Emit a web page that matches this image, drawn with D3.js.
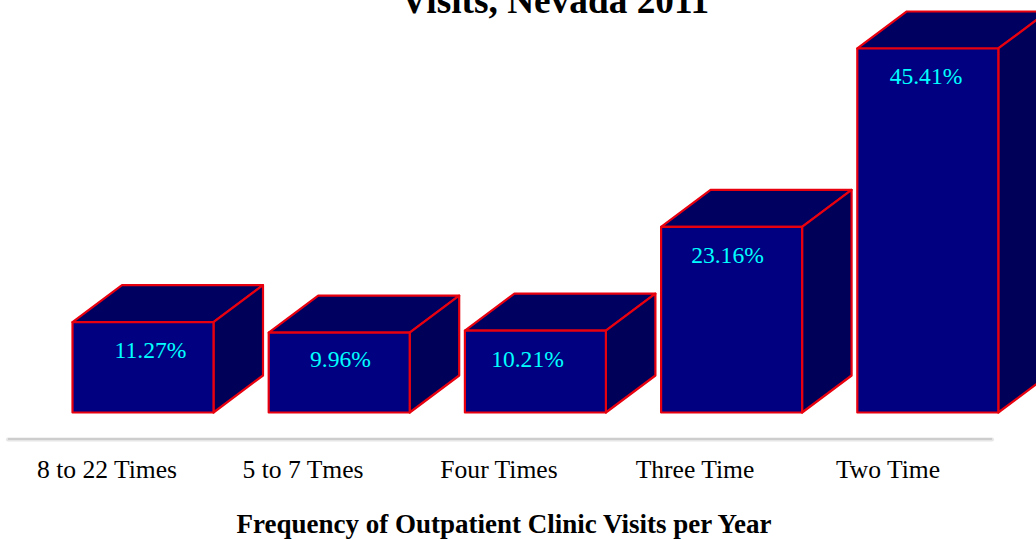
<!DOCTYPE html>
<html>
<head>
<meta charset="utf-8">
<script src="https://cdn.jsdelivr.net/npm/d3@7/dist/d3.min.js"></script>
<style>
html,body{margin:0;padding:0;background:#fff;overflow:hidden}
svg{display:block}
text{font-family:"Liberation Serif","Times New Roman",serif}
</style>
</head>
<body>
<svg id="c" width="1036" height="540"></svg>
<script>
const categories = ["8 to 22 Times","5 to 7 Tmes","Four Times","Three Time","Two Time"];
const values = [11.27,9.96,10.21,23.16,45.41];
const valueLabels = ["11.27%","9.96%","10.21%","23.16%","45.41%"];
const labelCentres = [150.5,340.5,527.5,727.5,926];
const categoryCentres = [107,303,499,695,888];
const titleText = "Visits, Nevada 2011";
const axisTitle = "Frequency of Outpatient Clinic Visits per Year";

const W = 1036, H = 540;
const baseY = 412.5, depthX = 49.5, depthY = -37;
const svg = d3.select("#c");

const x = d3.scaleBand().domain(categories).range([72.5, 72.5 + 196.2*4 + 141]).paddingInner(1 - 141/196.2).paddingOuter(0);
const y = d3.scaleLinear().domain([0,50]).range([baseY, baseY - 50*8.016]);

const bars = svg.append("g").selectAll("g").data(categories.map((c,i)=>({c,v:values[i],i}))).join("g");
const RED = "#e8000f";
function poly(sel, pts, fill){
  sel.append("polygon").attr("points", pts.map(p=>p.join(",")).join(" "))
    .attr("fill", fill).attr("stroke", RED).attr("stroke-width", 2.2).attr("stroke-linejoin","round");
}
bars.each(function(d){
  const g = d3.select(this), w = x.bandwidth(), x0 = x(d.c), x1 = x0 + w, yt = y(d.v), yb = y(0);
  poly(g, [[x0,yt],[x0+depthX,yt+depthY],[x1+depthX,yt+depthY],[x1,yt]], "#000060");
  poly(g, [[x1,yt],[x1+depthX,yt+depthY],[x1+depthX,yb+depthY],[x1,yb]], "#000058");
  poly(g, [[x0,yt],[x1,yt],[x1,yb],[x0,yb]], "#000080");
  g.append("text").attr("x", labelCentres[d.i]).attr("y", d.i===1 ? yt+34 : yt+36)
    .attr("text-anchor","middle").attr("font-size",23.6).attr("fill","#00ffff").text(valueLabels[d.i]);
});

// axis rule
svg.append("line").attr("x1",8).attr("x2",992).attr("y1",439.5).attr("y2",439.5).attr("stroke","#e6e6e6").attr("stroke-width",4).attr("stroke-linecap","round");
svg.append("line").attr("x1",8).attr("x2",992).attr("y1",439).attr("y2",439).attr("stroke","#c4c4c4").attr("stroke-width",1.5);

svg.append("g").selectAll("text").data(categories).join("text")
  .attr("x",(d,i)=>categoryCentres[i]).attr("y",478).attr("text-anchor","middle")
  .attr("font-size",25.6).attr("fill","#000").text(d=>d);

svg.append("text").attr("x",555).attr("y",13).attr("text-anchor","middle")
  .attr("font-size",37.3).attr("font-weight","bold").attr("fill","#000").text(titleText);
svg.append("text").attr("x",504).attr("y",533).attr("text-anchor","middle")
  .attr("font-size",27).attr("font-weight","bold").attr("fill","#000").text(axisTitle);
</script>
</body>
</html>
